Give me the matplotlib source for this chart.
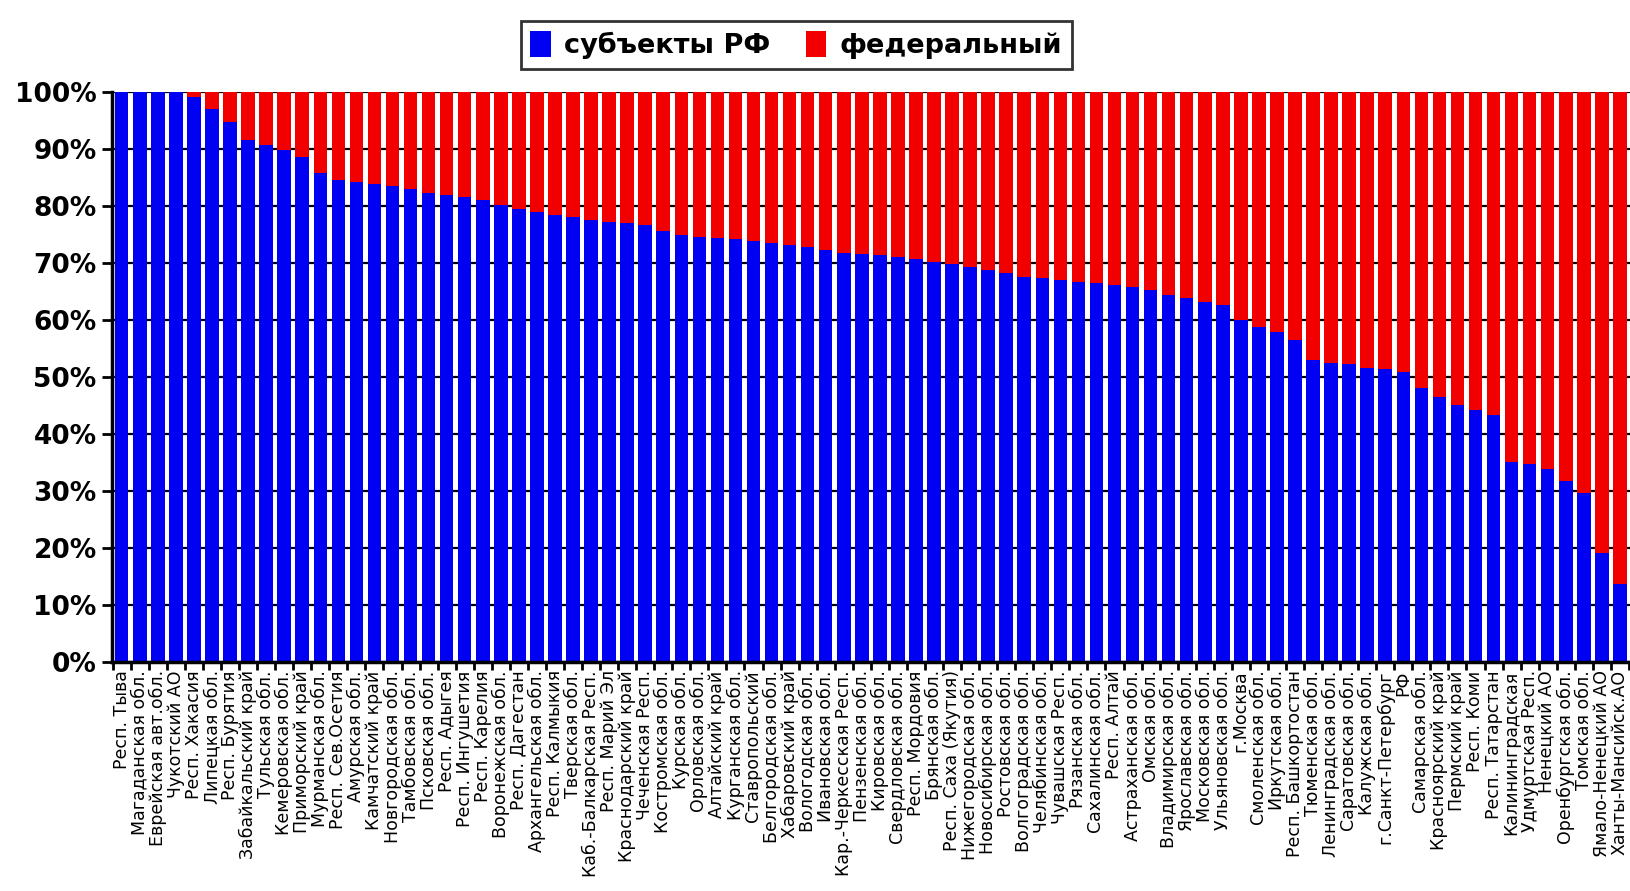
import numpy as np
import matplotlib.pyplot as plt
from matplotlib.ticker import FixedLocator, FuncFormatter

# regions, sorted by share of regional (subject) funding
regions = [
    "Респ. Тыва", "Магаданская обл.", "Еврейская авт.обл.", "Чукотский АО",
    "Респ. Хакасия", "Липецкая обл.", "Респ. Бурятия", "Забайкальский край",
    "Тульская обл.", "Кемеровская обл.", "Приморский край", "Мурманская обл.",
    "Респ. Сев.Осетия", "Амурская обл.", "Камчатский край", "Новгородская обл.",
    "Тамбовская обл.", "Псковская обл.", "Респ. Адыгея", "Респ. Ингушетия",
    "Респ. Карелия", "Воронежская обл.", "Респ. Дагестан", "Архангельская обл.",
    "Респ. Калмыкия", "Тверская обл.", "Каб.-Балкарская Респ.", "Респ. Марий Эл",
    "Краснодарский край", "Чеченская Респ.", "Костромская обл.", "Курская обл.",
    "Орловская обл.", "Алтайский край", "Курганская обл.", "Ставропольский",
    "Белгородская обл.", "Хабаровский край", "Вологодская обл.", "Ивановская обл.",
    "Кар.-Черкесская Респ.", "Пензенская обл.", "Кировская обл.", "Свердловская обл.",
    "Респ. Мордовия", "Брянская обл.", "Респ. Саха (Якутия)", "Нижегородская обл.",
    "Новосибирская обл.", "Ростовская обл.", "Волгоградская обл.", "Челябинская обл.",
    "Чувашская Респ.", "Рязанская обл.", "Сахалинская обл.", "Респ. Алтай",
    "Астраханская обл.", "Омская обл.", "Владимирская обл.", "Ярославская обл.",
    "Московская обл.", "Ульяновская обл.", "г.Москва", "Смоленская обл.",
    "Иркутская обл.", "Респ. Башкортостан", "Тюменская обл.", "Ленинградская обл.",
    "Саратовская обл.", "Калужская обл.", "г.Санкт-Петербург", "РФ",
    "Самарская обл.", "Красноярский край", "Пермский край", "Респ. Коми",
    "Респ. Татарстан", "Калининградская", "Удмуртская Респ.", "Ненецкий АО",
    "Оренбургская обл.", "Томская обл.", "Ямало-Ненецкий АО", "Ханты-Мансийск.АО",
]

# share of subjects of RF, %
subjects = [
    100, 100, 100, 100, 99.0, 97.0, 94.7, 91.5,
    90.6, 89.8, 88.6, 85.7, 84.5, 84.2, 83.8, 83.5,
    83.0, 82.2, 81.9, 81.6, 81.0, 80.1, 79.5, 79.0,
    78.4, 78.1, 77.5, 77.2, 76.9, 76.6, 75.5, 74.9,
    74.6, 74.3, 74.1, 73.9, 73.5, 73.1, 72.7, 72.2,
    71.8, 71.5, 71.3, 71.0, 70.6, 70.2, 69.8, 69.3,
    68.7, 68.2, 67.6, 67.3, 67.0, 66.7, 66.4, 66.1,
    65.7, 65.2, 64.4, 63.8, 63.2, 62.6, 60.0, 58.8,
    57.8, 56.4, 52.9, 52.5, 52.2, 51.6, 51.3, 50.9,
    48.0, 46.4, 45.0, 44.2, 43.4, 35.0, 34.8, 33.8,
    31.8, 29.7, 19.2, 13.7,
]
federal = [100 - v for v in subjects]

blue = "#0000f2"
red = "#f20000"

fig = plt.figure(figsize=(16.3, 8.91), dpi=100)
ax = fig.add_axes([0.0687, 0.257, 0.9313, 0.640])

x = np.arange(len(regions))
w = 0.75
b1 = ax.bar(x, subjects, width=w, color=blue, zorder=2, label="субъекты РФ")
b2 = ax.bar(x, federal, width=w, bottom=subjects, color=red, zorder=2, label="федеральный")

ax.set_xlim(-0.54, len(regions) - 0.44)
ax.set_ylim(0, 100)

# y axis
ax.set_yticks(np.arange(0, 101, 10))
ax.yaxis.set_major_formatter(FuncFormatter(lambda v, p: f"{int(v)}%"))
ax.tick_params(axis="y", direction="out", length=7, width=2, pad=4)
for lab in ax.get_yticklabels():
    lab.set_fontsize(19)
    lab.set_fontweight("bold")
    lab.set_family("DejaVu Sans")
ax.set_axisbelow(True)
ax.yaxis.grid(True, color="black", linewidth=1.6)

# x axis: labels at bars, tick marks between bars
ax.set_xticks(x)
ax.set_xticklabels(regions, rotation=90, fontsize=12.5, fontfamily="DejaVu Sans")
ax.tick_params(axis="x", which="major", length=0, pad=6)
ax.xaxis.set_minor_locator(FixedLocator(np.arange(-0.5, len(regions), 1.0)))
ax.tick_params(axis="x", which="minor", direction="out", length=6, width=2)

for side in ["top", "right"]:
    ax.spines[side].set_visible(False)
ax.spines["left"].set_linewidth(2.5)
ax.spines["bottom"].set_linewidth(2.5)

leg = fig.legend(handles=[b1, b2], loc="upper center", bbox_to_anchor=(0.4885, 0.985),
                 ncol=2, frameon=True, fancybox=False, edgecolor="black",
                 handlelength=0.75, handleheight=1.1, handletextpad=0.5,
                 columnspacing=1.3, borderpad=0.35, borderaxespad=0.3,
                 prop={"family": "DejaVu Sans", "weight": "bold", "size": 19.5})
leg.get_frame().set_linewidth(2)

fig.savefig("out.png", dpi=100)
